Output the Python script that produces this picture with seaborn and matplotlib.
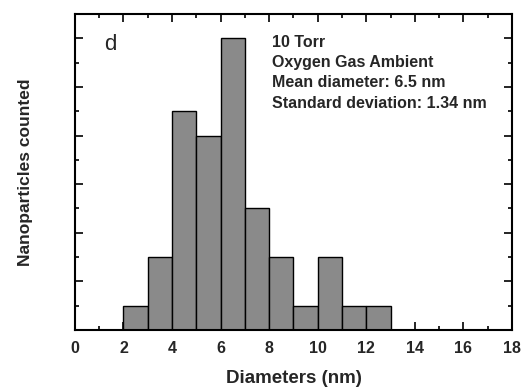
import numpy as np
import matplotlib
matplotlib.use("Agg")
import matplotlib.pyplot as plt
import seaborn as sns
from matplotlib.ticker import MultipleLocator, NullFormatter

# Data
bin_left = [2, 3, 4, 5, 6, 7, 8, 9, 10, 11, 12]
counts = [1, 3, 9, 8, 12, 5, 3, 1, 3, 1, 1]
x_ticks = [0, 2, 4, 6, 8, 10, 12, 14, 16, 18]
info_lines = ["10 Torr", "Oxygen Gas Ambient", "Mean diameter: 6.5 nm",
              "Standard deviation: 1.34 nm"]

sns.set_style("ticks")
plt.rcParams['font.family'] = ['Liberation Sans', 'DejaVu Sans']
plt.rcParams['font.weight'] = 'bold'

fig = plt.figure(figsize=(5.24, 3.9), dpi=100)
ax = fig.add_axes([0.143, 0.154, 0.834, 0.81])

centers = [b + 0.5 for b in bin_left]
edges = bin_left + [bin_left[-1] + 1]
sns.histplot(x=centers, weights=counts, bins=edges, ax=ax,
             color="#8a8a8a", edgecolor="black", linewidth=1.0, alpha=1.0)

ax.set_xlim(0, 18)
ax.set_ylim(0, 13)
ax.set_xticks(x_ticks)
ax.set_xticklabels([str(t) for t in x_ticks], fontsize=11.5, fontweight='bold')
ax.xaxis.set_minor_locator(MultipleLocator(1))
ax.yaxis.set_major_locator(MultipleLocator(2))
ax.yaxis.set_minor_locator(MultipleLocator(1))
ax.yaxis.set_major_formatter(NullFormatter())
ax.tick_params(which='both', direction='in', top=True, right=True, width=1.2, color='black')
ax.tick_params(which='major', length=6, pad=8)
ax.tick_params(which='minor', length=3)
for s in ax.spines.values():
    s.set_linewidth(1.5)
    s.set_color('black')
    s.set_visible(True)

ax.set_xlabel("Diameters (nm)", fontsize=13.5, fontweight='bold', labelpad=10)
ax.set_ylabel("Nanoparticles counted", fontsize=12.5, fontweight='bold', labelpad=22)

ax.text(1.2, 11.75, "d", fontsize=16, fontweight='normal', va='center')
ax.text(0.452, 0.935, "\n".join(info_lines), transform=ax.transAxes,
        fontsize=11.5, fontweight='bold', va='top', ha='left', linespacing=1.45)

fig.savefig("out.png", dpi=100)
